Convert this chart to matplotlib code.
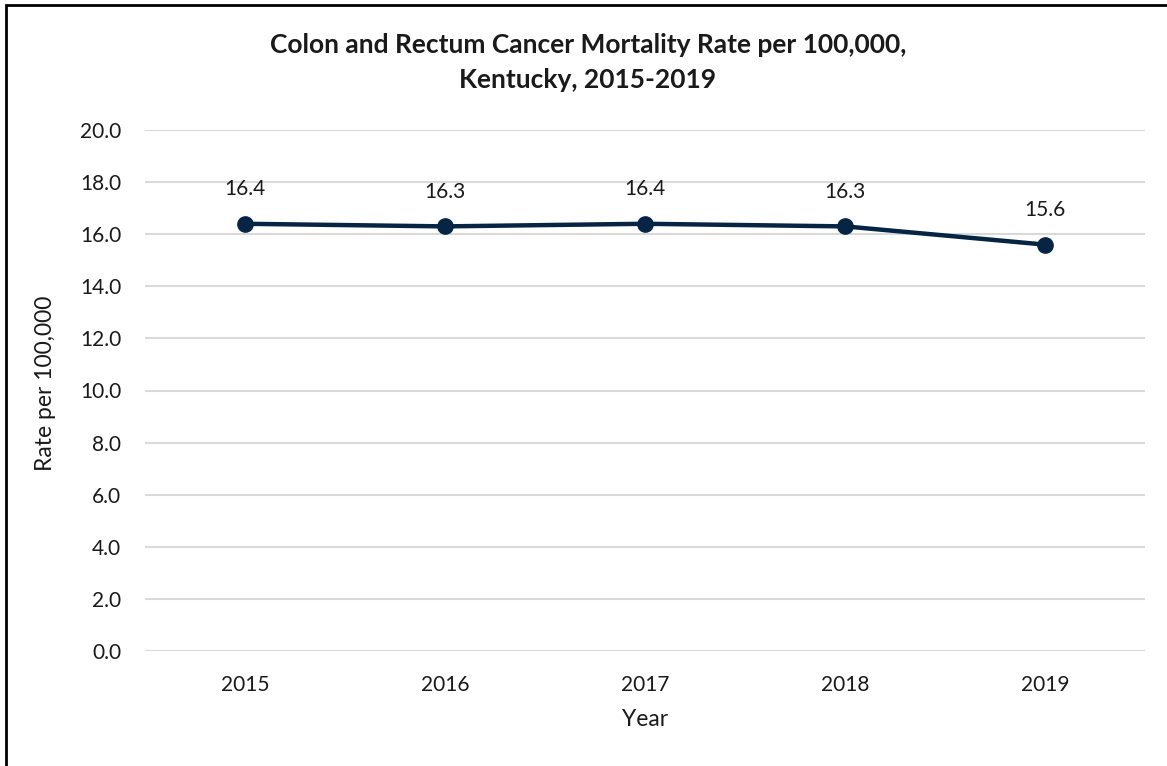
import matplotlib
matplotlib.use("Agg")
import matplotlib.pyplot as plt
from matplotlib.patches import Rectangle

years = ["2015", "2016", "2017", "2018", "2019"]
rates = [16.4, 16.3, 16.4, 16.3, 15.6]
yticks = [0, 2, 4, 6, 8, 10, 12, 14, 16, 18, 20]

plt.rcParams['font.family'] = ['Lato', 'DejaVu Sans']

W, H = 1167, 766
fig = plt.figure(figsize=(W / 100, H / 100), dpi=100)
ax = fig.add_axes([145 / W, 1 - 651 / H, 1000 / W, (651 - 130) / H])

x = list(range(len(years)))
color = "#062544"
ax.plot(x, rates, color=color, linewidth=3.2, marker="o", markersize=11, zorder=3)
for xi, v in zip(x, rates):
    ax.annotate(f"{v:.1f}", (xi, v), xytext=(0, 25), textcoords="offset points",
                ha="center", va="center", fontsize=15, color="#1a1a1a")

ax.set_xlim(-0.5, len(years) - 0.5)
ax.set_ylim(0, 20)
ax.set_yticks(yticks)
ax.set_yticklabels([f"{t:.1f}" for t in yticks], fontsize=15, color="#1a1a1a")
ax.set_xticks(x)
ax.set_xticklabels(years, fontsize=15, color="#1a1a1a")
ax.tick_params(axis="both", length=0)
ax.tick_params(axis="y", pad=17)
ax.tick_params(axis="x", pad=17)
ax.grid(axis="y", color="#d9d9d9", linewidth=1.5)
ax.set_axisbelow(True)
for s in ax.spines.values():
    s.set_visible(False)

ax.set_ylabel("Rate per 100,000", fontsize=16.5, color="#1a1a1a")
ax.yaxis.set_label_coords(46 / W, 0.5, transform=fig.transFigure)
ax.set_xlabel("Year", fontsize=16.5, color="#1a1a1a")
ax.xaxis.set_label_coords(645 / W, 1 - 720 / H, transform=fig.transFigure)
ax.xaxis.label.set_va("center")
ax.yaxis.label.set_va("center")

cx = 588 / W
fig.text(cx, 1 - 45 / H, "Colon and Rectum Cancer Mortality Rate per 100,000,",
         ha="center", va="center", fontsize=19, fontweight="bold", color="#1a1a1a")
fig.text(cx, 1 - 80 / H, "Kentucky, 2015-2019",
         ha="center", va="center", fontsize=19, fontweight="bold", color="#1a1a1a")

fig.patches.append(Rectangle((6 / W, -0.05), 1.2, 1 - 5 / H + 0.05, transform=fig.transFigure,
                             fill=False, edgecolor="black", linewidth=2, figure=fig))

fig.savefig("out.png", dpi=100)
